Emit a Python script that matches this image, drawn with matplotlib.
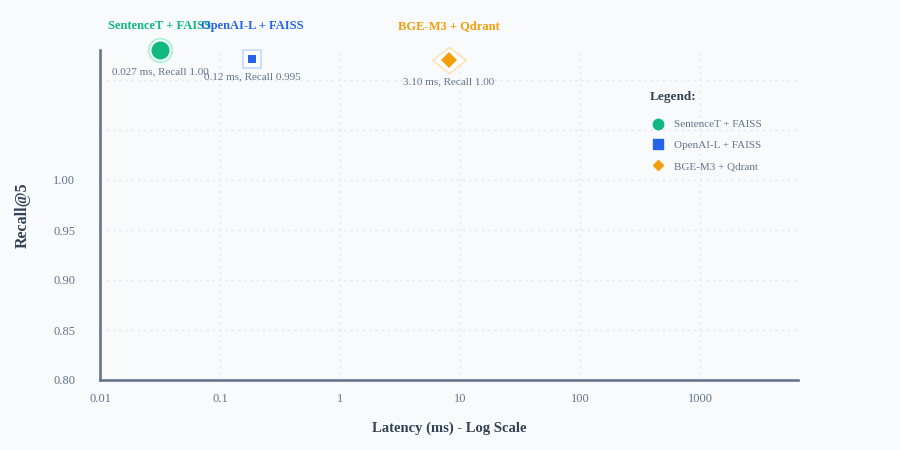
import matplotlib.pyplot as plt
from matplotlib.lines import Line2D

plt.rcParams['font.family'] = ['Liberation Serif', 'DejaVu Serif']

# data
systems = ['SentenceT + FAISS', 'OpenAI-L + FAISS', 'BGE-M3 + Qdrant']
latency_labels = ['0.027', '0.12', '3.10']
recall_labels = ['1.00', '0.995', '1.00']
x_pos = [0.0316, 0.185, 8.1]      # where the marks sit on the log axis
y_pos = [1.130, 1.121, 1.120]
colors = ['#10b981', '#2563eb', '#f59e0b']
halo = ['#a7f3d0', '#bfdbfe', '#fde3b5']
x_ticks = [0.01, 0.1, 1, 10, 100, 1000]
x_tick_labels = ['0.01', '0.1', '1', '10', '100', '1000']
y_ticks = [0.80, 0.85, 0.90, 0.95, 1.00]

bg = '#f8fafc'
axis_col = '#64748b'
dark = '#334155'

flat_diamond = [(-1, 0), (0, 0.78), (1, 0), (0, -0.78), (-1, 0)]
halo_markers = ['o', 's', flat_diamond]
core_markers = ['o', 's', 'D']
halo_size = [17, 13.5, 24]
core_size = [13, 6, 8]
note_offset = [-16, -12.5, -15.5]

fig = plt.figure(figsize=(9, 4.5), dpi=100, facecolor=bg)
ax = fig.add_axes([100/900, 70/450, 698/900, 330/450], facecolor=bg)

ax.set_xscale('log')
ax.set_xlim(0.01, 10**3.817)
ax.set_ylim(0.80, 1.13)

for i in range(len(systems)):
    ax.plot(x_pos[i], y_pos[i], marker=halo_markers[i], ms=halo_size[i], mfc='white',
            mec=halo[i], mew=1.2, clip_on=False, zorder=3)
    ax.plot(x_pos[i], y_pos[i], marker=core_markers[i], ms=core_size[i], mfc=colors[i],
            mec=colors[i], mew=0, clip_on=False, zorder=4)
    ax.annotate(systems[i], xy=(x_pos[i], 1), xycoords=('data', 'axes fraction'),
                xytext=(0, 17), textcoords='offset points', ha='center', va='center',
                fontsize=9, fontweight='bold', color=colors[i], annotation_clip=False)
    ax.annotate(f'{latency_labels[i]} ms, Recall {recall_labels[i]}',
                xy=(x_pos[i], y_pos[i]), xytext=(0, note_offset[i]), textcoords='offset points',
                ha='center', va='center', fontsize=8, color=axis_col,
                annotation_clip=False, zorder=5)

ax.set_xticks(x_ticks)
ax.set_xticklabels(x_tick_labels)
ax.xaxis.set_minor_locator(plt.NullLocator())
ax.set_yticks(y_ticks)
ax.set_yticklabels([f'{v:.2f}' for v in y_ticks])
ax.set_yticks([1.05, 1.10], minor=True)
ax.tick_params(axis='x', length=0, pad=9, labelsize=9, labelcolor=axis_col)
ax.tick_params(axis='y', which='both', length=0, pad=18, labelsize=9, labelcolor=axis_col)

ax.grid(True, which='both', linestyle=(0, (1.5, 3)), color='#e2e8f0', linewidth=1)
ax.set_axisbelow(True)

for s in ['top', 'right']:
    ax.spines[s].set_visible(False)
for s in ['left', 'bottom']:
    ax.spines[s].set_color(axis_col)
    ax.spines[s].set_linewidth(1.9)

ax.set_xlabel('Latency (ms) - Log Scale', fontsize=10.5, fontweight='bold', color=dark, labelpad=12)
ax.set_ylabel('Recall@5', fontsize=11.5, fontweight='bold', color=dark, labelpad=16)

handles = [Line2D([], [], linestyle='none', marker=m, ms=s, mfc=c, mec=c)
           for m, c, s in zip(core_markers, colors, [7.5, 7.5, 5.5])]
leg = ax.legend(handles, systems, loc='upper left', bbox_to_anchor=(640/900, 1 - 81/450),
                bbox_transform=fig.transFigure, frameon=False, fontsize=8,
                labelcolor=axis_col, title='Legend:', alignment='left',
                title_fontproperties={'weight': 'bold', 'size': 9.5},
                handlelength=1.5, handletextpad=0.7, labelspacing=1.0)
leg.get_title().set_color(dark)
leg._legend_box.sep = 12

fig.savefig('out.png', dpi=100, facecolor=bg)
